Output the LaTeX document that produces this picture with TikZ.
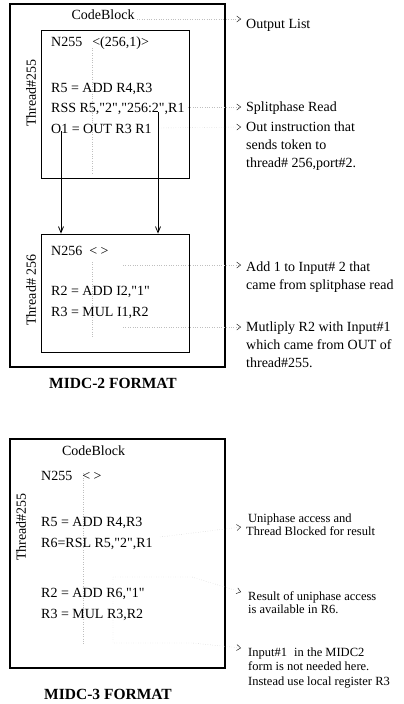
\documentclass[tikz,border=0pt]{standalone}
\usepackage{fontspec}
\setmainfont{Liberation Serif}[Ligatures=TeXOff]
\usetikzlibrary{arrows.meta}
\newcommand{\qt}{\symbol{34}}
\tikzset{
  code/.style={anchor=west, inner sep=0pt, font=\fontsize{14}{17}\selectfont,
    text height=9.5pt, text depth=0pt},
  smallnote/.style={anchor=west, inner sep=0pt, font=\fontsize{12.5}{15}\selectfont,
    text height=8.5pt, text depth=0pt},
  threadbox/.style={draw, line width=0.8pt, minimum width=148pt},
  codeblock/.style={line width=1.6pt},
  flow/.style={line width=0.8pt, -{Straight Barb[length=6pt, width=5pt]}},
  guide/.style={black!25, dotted, -{Straight Barb[black, length=4pt, width=6pt]}},
  faint/.style={black!25, dotted},
  format/.style={font=\bfseries\fontsize{15.5}{18}\selectfont, inner sep=0pt}
}
\begin{document}
\begin{tikzpicture}[x=1pt, y=-1pt]
  \useasboundingbox (0,0) rectangle (404,704);

  % MIDC-2 format
  \draw[codeblock] (10,4) rectangle (225,367);
  \node[code, anchor=center] (cb2) at (103,15) {CodeBlock};
  \node[threadbox, minimum height=148pt] (t255) at (115,104) {};
  \node[threadbox, minimum height=118pt] (t256) at (115,293) {};
  \draw[faint] (92,48) -- (92,175);
  \draw[faint] (92,262) -- (92,337);

  \node[code] (n255) at (51,42) {N255\hspace{10pt}<(256,1)>};
  \node[code] (add255) at (51,88) {R5 = ADD R4,R3};
  \node[code] (rss) at (51,108) {RSS R5,\qt2\qt,\qt256:2\qt,R1};
  \node[code] (out255) at (51,129) {O1 = OUT R3 R1};
  \node[code, anchor=center, rotate=90] (lbl255) at (31,93) {Thread\#255};

  \node[code] (n256) at (51,251) {N256\hspace{7pt}< >};
  \node[code] (add256) at (51,291) {R2 = ADD I2,\qt1\qt};
  \node[code] (mul256) at (51,312) {R3 = MUL I1,R2};
  \node[code, anchor=center, rotate=90] (lbl256) at (31,290) {Thread\# 256};

  \coordinate (tapout) at (61,131);
  \coordinate (taprss) at (158,112);
  \draw[flow] (tapout) -- (tapout |- t256.north);
  \draw[flow] (taprss) -- (taprss |- t256.north);

  \node[format] (fmt2) at (113,383) {MIDC-2 FORMAT};

  % notes for MIDC-2
  \node[code] (noteout) at (246,24) {Output List};
  \node[code] (notesplit) at (246,107) {Splitphase Read};
  \node[code] (notesend) at (246,127) {Out instruction that};
  \node[code] (notesend2) at (246,145) {sends token to};
  \node[code] (notesend3) at (246,163) {thread\# 256,port\#2.};
  \node[code] (noteadd) at (246,267) {Add 1 to Input\# 2 that};
  \node[code] (noteadd2) at (246,285) {came from splitphase read};
  \node[code] (notemul) at (246,327) {Mutliply R2 with Input\#1};
  \node[code] (notemul2) at (246,345) {which came from OUT of};
  \node[code] (notemul3) at (246,363) {thread\#255.};

  \coordinate (srclist) at (137,19);
  \coordinate (srcadd) at (123,265);
  \coordinate (srcmul) at (123,327);
  \draw[guide] (srclist) -- ([xshift=-5pt, yshift=5pt]noteout.west);
  \draw[guide] ([xshift=3pt, yshift=1pt]rss.east) -- ([xshift=-5pt]notesplit.west);
  \draw[guide] ([xshift=7pt, yshift=1pt]out255.east) -- ([xshift=-5pt]notesend.west);
  \draw[guide] (srcadd) -- ([xshift=-5pt, yshift=2pt]noteadd.west);
  \draw[guide] (srcmul) -- ([xshift=-5pt]notemul.west);

  % MIDC-3 format
  \draw[codeblock] (10,439) rectangle (225,668);
  \node[code, anchor=center] (cb3) at (93.5,451) {CodeBlock};
  \draw[faint] (83,473) -- (83,645);

  \node[code] (n255b) at (41,476) {N255\hspace{10pt}< >};
  \node[code] (add255b) at (41,522) {R5 = ADD R4,R3};
  \node[code] (rsl) at (41,543) {R6=RSL R5,\qt2\qt,R1};
  \node[code] (add256b) at (41,593) {R2 = ADD R6,\qt1\qt};
  \node[code] (mul256b) at (41,614) {R3 = MUL R3,R2};
  \node[code, anchor=center, rotate=90] (lbl255b) at (21,527) {Thread\#255};

  \node[format] (fmt3) at (108,694) {MIDC-3 FORMAT};

  % notes for MIDC-3
  \node[smallnote] (noteuni) at (248,518) {Uniphase access and};
  \node[smallnote] (noteuni2) at (246,531) {Thread Blocked for result};
  \node[smallnote] (noteres) at (248,596) {Result of uniphase access};
  \node[smallnote] (noteres2) at (248,609) {is available in R6.};
  \node[smallnote] (notein) at (248,652) {Input\#1\hspace{4pt} in the MIDC2};
  \node[smallnote] (notein2) at (248,666) {form is not needed here.};
  \node[smallnote] (notein3) at (248,681) {Instead use local register R3};

  \coordinate (srcrsl) at (160,537);
  \coordinate (srcres) at (113,577);
  \draw[guide] (srcrsl) -- ([xshift=-5pt, yshift=4pt]noteuni2.west);
  \draw[guide] (srcres) -- (192,577) -- ([xshift=-7pt, yshift=4pt]noteres.west);
  \draw[guide] (srcres) -- (113,643) -- (193,643) -- ([xshift=-7pt, yshift=4pt]notein.west);
\end{tikzpicture}
\end{document}
